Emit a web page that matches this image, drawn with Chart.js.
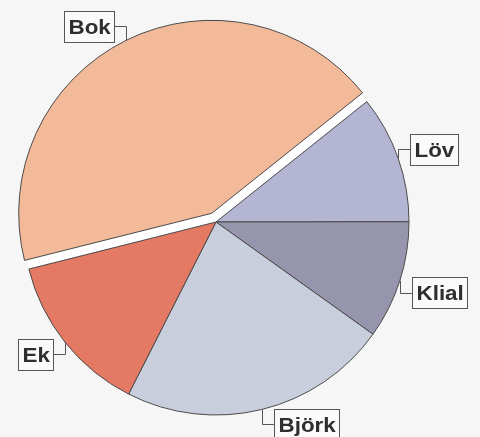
<!DOCTYPE html>
<html>
<head>
<meta charset="utf-8">
<script src="https://cdn.jsdelivr.net/npm/chart.js@4.4.1/dist/chart.umd.min.js"></script>
<style>
  html, body { margin: 0; padding: 0; background: #f6f6f6; }
  #wrap { width: 480px; height: 437px; position: relative; }
</style>
</head>
<body>
<div id="wrap"><canvas id="c" width="480" height="437"></canvas></div>
<script>
// Data (percent shares)
const categories = ['Löv', 'Klial', 'Björk', 'Ek', 'Bok'];
const shares = [10.7, 9.9, 22.6, 13.6, 43.2];
const explodedCategory = 'Bok';

const sliceColors = ['#b3b5d2', '#9795ad', '#c8cedb', '#e47a64', '#f3ba9a'];

// label leader geometry: fraction along arc, vertical leader, horizontal leader
const labelGeom = {
  'Löv':   { frac: 0.5, dy: -9,  dx: 12 },
  'Klial': { frac: 0.5, dy: 12,  dx: 12 },
  'Björk': { frac: 0.5, dy: 15,  dx: 12 },
  'Ek':    { frac: 0.5, dy: 12,  dx: -12 },
  'Bok':   { frac: 0.5, dy: -14, dx: -12 }
};

const EXPLODE_PX = 9.7; // distance the exploded slice is pulled out

function explodeShift(arc, name) {
  if (name !== explodedCategory) return { dx: 0, dy: 0 };
  const p = arc.getProps(['startAngle', 'endAngle'], true);
  const half = (p.startAngle + p.endAngle) / 2;
  return { dx: Math.cos(half) * EXPLODE_PX, dy: Math.sin(half) * EXPLODE_PX };
}

const explode = {
  id: 'explode',
  beforeDatasetsDraw(chart) {
    const meta = chart.getDatasetMeta(0);
    meta.data.forEach((arc, i) => {
      const name = chart.data.labels[i];
      if (name !== explodedCategory || arc._wrapped) return;
      const orig = arc.draw;
      arc.draw = function (ctx) {
        const s = explodeShift(this, name);
        ctx.save();
        ctx.translate(s.dx, s.dy);
        orig.call(this, ctx);
        ctx.restore();
      };
      arc._wrapped = true;
    });
    // white disc behind slices (shows in the explode gap)
    const arc0 = meta.data[0];
    const { x, y, outerRadius } = arc0.getProps(['x', 'y', 'outerRadius'], true);
    const ctx = chart.ctx;
    ctx.save();
    ctx.fillStyle = '#ffffff';
    ctx.beginPath();
    ctx.arc(x, y, outerRadius, 0, Math.PI * 2);
    ctx.fill();
    ctx.restore();
  }
};

const boxLabels = {
  id: 'boxLabels',
  afterDatasetsDraw(chart) {
    const ctx = chart.ctx;
    const meta = chart.getDatasetMeta(0);
    ctx.save();
    meta.data.forEach((arc, i) => {
      const name = chart.data.labels[i];
      const g = labelGeom[name];
      const p = arc.getProps(['x', 'y', 'startAngle', 'endAngle', 'outerRadius'], true);
      const s = explodeShift(arc, name);
      const cx = p.x + s.dx;
      const cy = p.y + s.dy;
      const a = p.startAngle + g.frac * (p.endAngle - p.startAngle);
      const ax = cx + Math.cos(a) * p.outerRadius;
      const ay = cy + Math.sin(a) * p.outerRadius;
      const ey = ay + g.dy;
      const bx = ax + g.dx;
      // leader
      ctx.strokeStyle = '#555555';
      ctx.lineWidth = 1;
      ctx.beginPath();
      ctx.moveTo(Math.round(ax) + 0.5, ay);
      ctx.lineTo(Math.round(ax) + 0.5, Math.round(ey) + 0.5);
      ctx.lineTo(bx, Math.round(ey) + 0.5);
      ctx.stroke();
      // box
      ctx.font = 'bold 20px "Liberation Sans", Arial, sans-serif';
      const sx = 1.12;
      const tw = ctx.measureText(name).width * sx;
      const bw = tw + 8;
      const bh = 31;
      const left = g.dx >= 0 ? bx : bx - bw;
      const top = Math.round(ey - bh / 2);
      ctx.fillStyle = '#fafafa';
      ctx.fillRect(Math.round(left) + 0.5, top + 0.5, Math.round(bw), bh);
      ctx.strokeStyle = '#555555';
      ctx.strokeRect(Math.round(left) + 0.5, top + 0.5, Math.round(bw), bh);
      ctx.fillStyle = '#2e2e2e';
      ctx.textBaseline = 'middle';
      ctx.textAlign = 'left';
      ctx.save();
      ctx.translate(Math.round(left) + 4.5, top + bh / 2 + 1.5);
      ctx.scale(sx, 1);
      ctx.fillText(name, 0, 0);
      ctx.restore();
    });
    ctx.restore();
  }
};

new Chart(document.getElementById('c'), {
  type: 'pie',
  data: {
    labels: categories,
    datasets: [{
      data: shares,
      backgroundColor: sliceColors,
      borderColor: '#4a4a4a',
      borderWidth: 1,
      clip: false
    }]
  },
  options: {
    responsive: false,
    animation: false,
    rotation: 51.4,
    radius: 193,
    layout: { padding: { left: 0, right: 48, top: 7, bottom: 0 } },
    plugins: {
      legend: { display: false },
      tooltip: { enabled: false }
    }
  },
  plugins: [explode, boxLabels]
});
</script>
</body>
</html>
